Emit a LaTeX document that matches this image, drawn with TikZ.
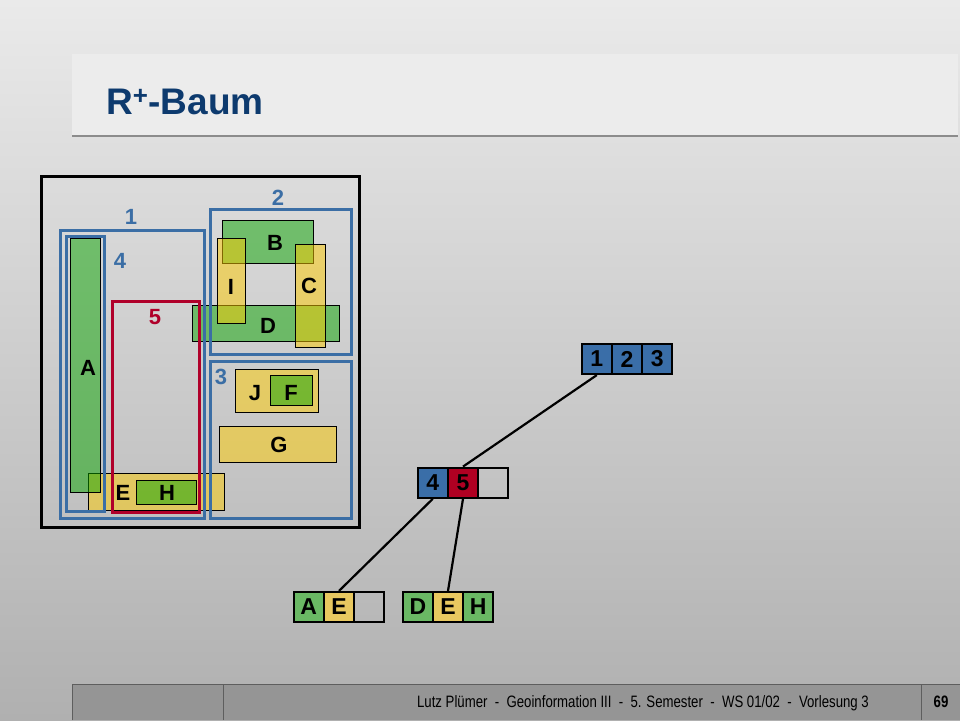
\documentclass[tikz,border=0pt]{standalone}
\usepackage{fontspec}
\setmainfont{Liberation Sans}
\newfontfamily\narrowfont[FakeStretch=0.8]{Liberation Sans}
\definecolor{bgtop}{HTML}{EAEAEA}
\definecolor{bgbot}{HTML}{B0B0B0}
\definecolor{titlebox}{HTML}{ECECEC}
\definecolor{titleblue}{HTML}{0D3A6E}
\definecolor{boxblue}{HTML}{3B6EA5}
\definecolor{boxred}{HTML}{B0002A}
\definecolor{pyellow}{HTML}{FFCC00}
\definecolor{pgreen}{RGB}{10,165,0}
\definecolor{cellgreen}{HTML}{6AB864}
\definecolor{cellyellow}{HTML}{E8C860}
\definecolor{cellblue}{HTML}{3A6EA8}
\definecolor{cellred}{HTML}{B00022}
\definecolor{footfill}{HTML}{959595}
\definecolor{footline}{HTML}{5E5E5E}
\tikzset{
  yrect/.style={fill=pyellow, fill opacity=0.5, draw=black, line width=0.8pt},
  grect/.style={fill=pgreen, fill opacity=0.5, draw=black, line width=0.8pt},
  mbrblue/.style={draw=boxblue, line width=3pt},
  mbrred/.style={draw=boxred, line width=3pt},
  lbl/.style={font=\fontsize{22}{24}\selectfont\bfseries, inner sep=0pt},
  numlbl/.style={lbl, text=boxblue},
  cell/.style={draw=black, line width=2.2pt, minimum width=30pt, minimum height=30pt, inner sep=0pt, font=\fontsize{23}{24}\selectfont\bfseries},
  conn/.style={draw=black, line width=2.2pt}
}
\begin{document}
\begin{tikzpicture}[x=1pt,y=-1pt]
\useasboundingbox (0,0) rectangle (960,720);
% background
\shade[top color=bgtop, bottom color=bgbot] (0,0) rectangle (960,720);
% title box
\fill[titlebox] (72,54) rectangle (958,135);
\draw[line width=2.5pt, draw=black!45] (72,136) -- (958,136);
\node[anchor=base west, text=titleblue, font=\fontsize{37}{40}\selectfont\bfseries, inner sep=0pt] (title) at (106,114) {R\textsuperscript{+}-Baum};
% footer
\fill[footfill] (72,684) rectangle (960,720);
\draw[footline, line width=1pt] (72,720) -- (72,684) -- (960,684);
\draw[footline, line width=0.8pt] (223,684) -- (223,720);
\draw[footline, line width=0.8pt] (921.5,684) -- (921.5,720);
\node[anchor=base east, font=\narrowfont\fontsize{16.5}{18}\selectfont, inner sep=0pt] (foot) at (869,707) {Lutz Plümer~ -~ Geoinformation III~ -~ 5. Semester~ -~ WS 01/02~ -~ Vorlesung 3};
\node[anchor=base, font=\narrowfont\fontsize{16.5}{18}\selectfont\bfseries, inner sep=0pt] (page) at (941,707) {69};
% data rectangles (draw order matters for transparency)
\path[yrect] (88.7,473.3) rectangle (224.3,510.3);   % E
\path[grect] (70.3,238.3) rectangle (100.7,492.3);   % A
\path[grect] (136.3,480.3) rectangle (196.3,504.3);  % H
\path[grect] (222.3,220.7) rectangle (313.3,263.3);  % B
\path[grect] (192.3,305.3) rectangle (339.3,341.3);  % D
\path[yrect] (217.7,238.3) rectangle (245.3,323.3);  % I
\path[yrect] (295.7,244.3) rectangle (325.3,347.3);  % C
\path[yrect] (235.3,369.3) rectangle (318.3,412.3);  % J
\path[grect] (270.3,375.3) rectangle (312.3,405.3);  % F
\path[yrect] (219.3,426.3) rectangle (336.3,462.3);  % G
% bounding boxes
\draw[mbrblue] (60.5,230.5) rectangle (204.5,518);   % 1
\draw[mbrblue] (66.3,236.3) rectangle (104.7,511.7); % 4
\draw[mbrblue] (210.3,209.6) rectangle (351.7,354.4);% 2
\draw[mbrblue] (210.3,361.3) rectangle (351.7,518);  % 3
\draw[mbrred] (112.3,301.3) rectangle (199.7,512);   % 5
\draw[line width=3pt] (41.5,176.5) rectangle (359.5,527.5);
% labels
\node[numlbl] (l1) at (131,217) {1};
\node[numlbl] (l2) at (278,198) {2};
\node[numlbl] (l3) at (221,377) {3};
\node[numlbl] (l4) at (120,261) {4};
\node[lbl, text=boxred] (l5) at (155,317) {5};
\node[lbl] (lA) at (88,368) {A};
\node[lbl] (lB) at (275,243) {B};
\node[lbl] (lI) at (231,287) {I};
\node[lbl] (lC) at (309,286) {C};
\node[lbl] (lD) at (268,326) {D};
\node[lbl] (lJ) at (255,393) {J};
\node[lbl] (lF) at (291,393) {F};
\node[lbl] (lG) at (279,445) {G};
\node[lbl] (lE) at (123,493) {E};
\node[lbl] (lH) at (167,493) {H};
% tree
\node[cell, fill=cellblue] (r1) at (596.8,359) {1};
\node[cell, fill=cellblue] (r2) at (627,359) {2};
\node[cell, fill=cellblue] (r3) at (657.2,359) {3};
\node[cell, fill=cellblue] (m4) at (432.8,482.7) {4};
\node[cell, fill=cellred] (m5) at (463,482.7) {5};
\node[cell] (m6) at (493.2,482.7) {};
\node[cell, fill=cellgreen] (aA) at (308.8,607) {A};
\node[cell, fill=cellyellow] (aE) at (339,607) {E};
\node[cell] (aX) at (369.2,607) {};
\node[cell, fill=cellgreen] (dD) at (417.8,607) {D};
\node[cell, fill=cellyellow] (dE) at (448,607) {E};
\node[cell, fill=cellgreen] (dH) at (478.2,607) {H};
\draw[conn] (r1.south) -- (m5.north);
\draw[conn] (m4.south) -- (aE.north);
\draw[conn] (m5.south) -- (dE.north);
\end{tikzpicture}
\end{document}
